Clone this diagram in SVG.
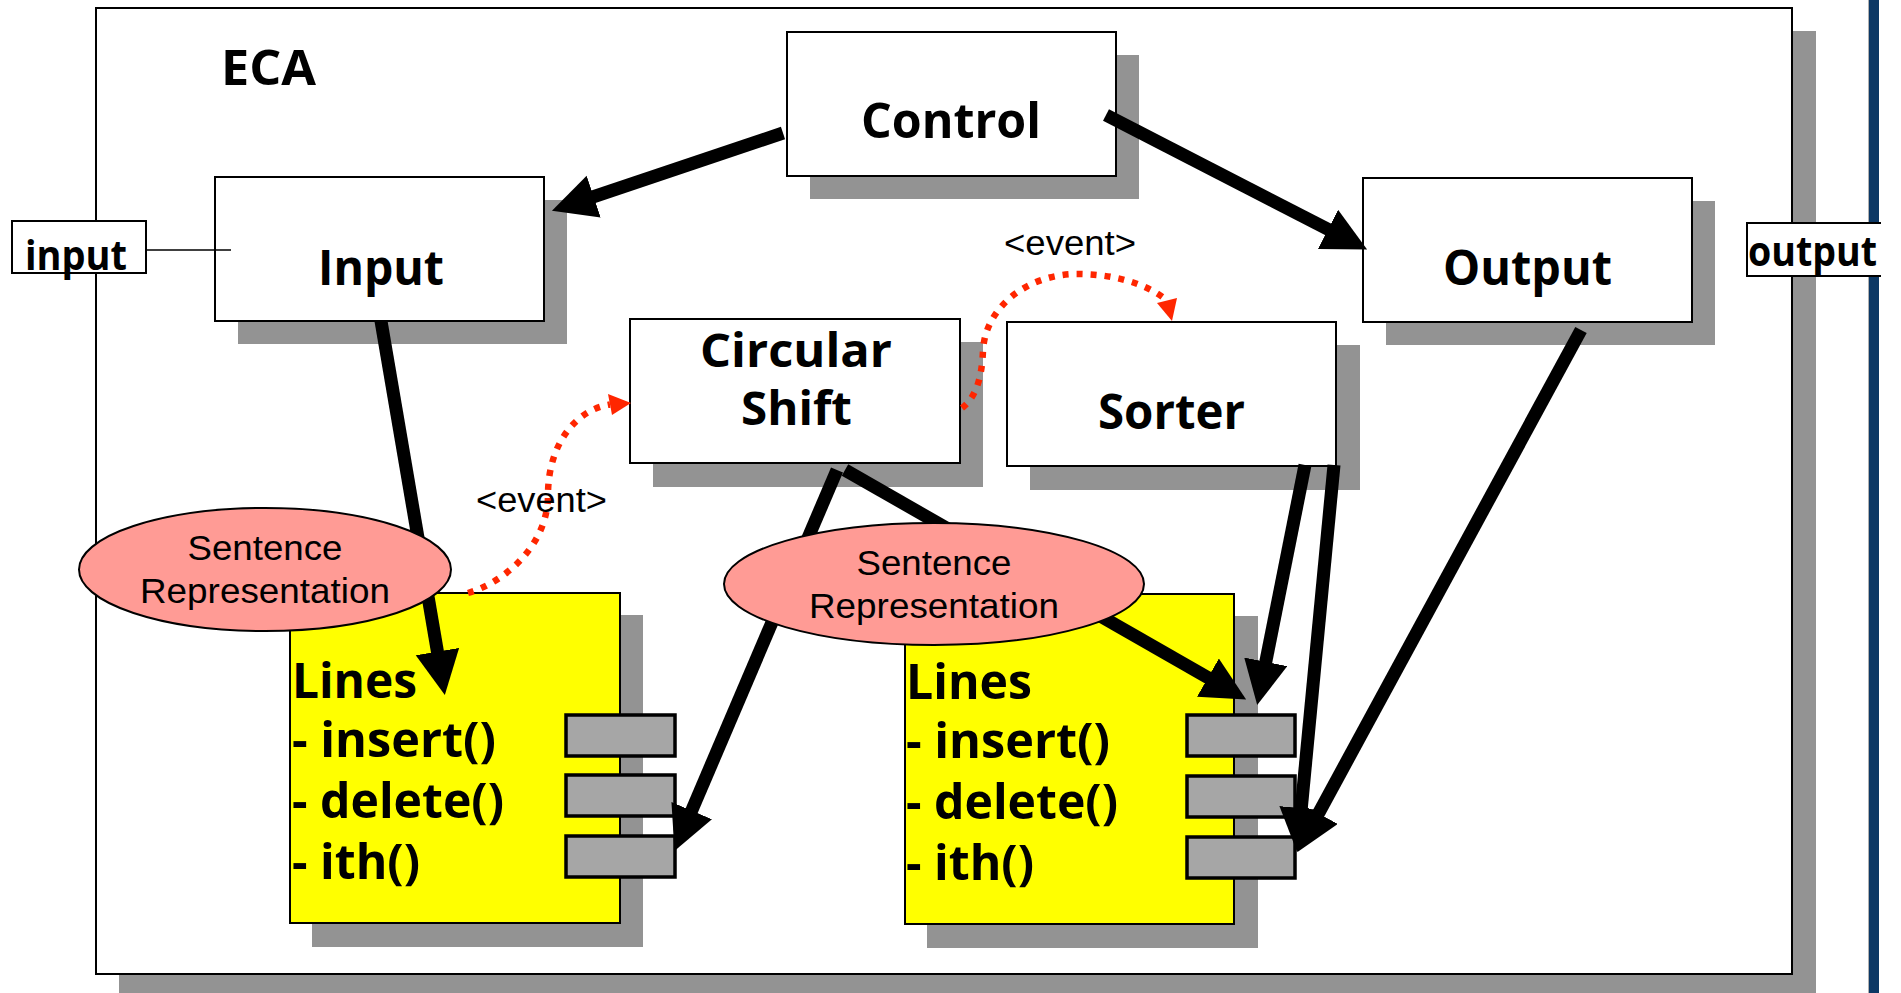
<svg xmlns="http://www.w3.org/2000/svg" width="1901" height="993" viewBox="0 0 1901 993">
<defs>
<style>
.sh{fill:#939393}
.box{fill:#fff;stroke:#000;stroke-width:2}
.yel{fill:#ffff00;stroke:#000;stroke-width:2}
.m{fill:#a6a6a6;stroke:#000;stroke-width:3.5}
.t{font-family:"Open Sans","DejaVu Sans",sans-serif;font-weight:700;fill:#000}
.big{font-size:48px}
.port{font-size:42px}
.r{font-family:"Liberation Sans",Arial,sans-serif;font-size:35px;fill:#000}
.ell{fill:#ff9b95;stroke:#000;stroke-width:2}
.arr{fill:none;stroke:#000;stroke-width:13;stroke-linecap:butt}
.ev{fill:none;stroke:#ff2600;stroke-width:6.5;stroke-dasharray:6 8}
</style>
<marker id="ah" markerUnits="userSpaceOnUse" markerWidth="50" markerHeight="50" refX="1" refY="22" orient="auto">
<path d="M0,0 L44,22 L0,44 z" fill="#000"/>
</marker>
</defs>
<rect width="1901" height="993" fill="#fff"/>
<rect x="1868" y="0" width="1" height="993" fill="#b0b0b0"/>
<rect x="1869" y="0" width="10" height="993" fill="#0c3865"/>

<g id="eca">
<rect class="sh" x="119" y="31" width="1697" height="970"/>
<rect class="box" x="96" y="8" width="1696" height="966"/>
<text class="t" x="221" y="85" font-size="48" textLength="95" lengthAdjust="spacingAndGlyphs">ECA</text>
</g>

<g id="port-input">
<rect class="box" x="12" y="221" width="134" height="52"/>
<text class="t port" x="25" y="270" textLength="102" lengthAdjust="spacingAndGlyphs">input</text>
</g>

<g id="port-output">
<rect x="1747" y="223" width="134" height="53" fill="#fff"/>
<path d="M1881,223 H1747 V276 H1881" fill="none" stroke="#000" stroke-width="2"/>
<text class="t port" x="1748" y="266" textLength="129" lengthAdjust="spacingAndGlyphs">output</text>
</g>

<g id="control">
<rect class="sh" x="810" y="55" width="329" height="144"/>
<rect class="box" x="787" y="32" width="329" height="144"/>
<text class="t big" x="861" y="138" textLength="180" lengthAdjust="spacingAndGlyphs">Control</text>
</g>

<g id="input">
<rect class="sh" x="238" y="200" width="329" height="144"/>
<rect class="box" x="215" y="177" width="329" height="144"/>
<text class="t big" x="318" y="285" textLength="126" lengthAdjust="spacingAndGlyphs">Input</text>
</g>

<g id="output">
<rect class="sh" x="1386" y="201" width="329" height="144"/>
<rect class="box" x="1363" y="178" width="329" height="144"/>
<text class="t big" x="1443" y="285" textLength="169" lengthAdjust="spacingAndGlyphs">Output</text>
</g>

<g id="circular-shift">
<rect class="sh" x="653" y="342" width="330" height="145"/>
<rect class="box" x="630" y="319" width="330" height="144"/>
<text class="t" font-size="46" x="700" y="367" textLength="192" lengthAdjust="spacingAndGlyphs">Circular</text>
<text class="t" font-size="46" x="741" y="425" textLength="111" lengthAdjust="spacingAndGlyphs">Shift</text>
</g>

<g id="sorter">
<rect class="sh" x="1030" y="345" width="330" height="145"/>
<rect class="box" x="1007" y="322" width="329" height="144"/>
<text class="t big" x="1098" y="429" textLength="147" lengthAdjust="spacingAndGlyphs">Sorter</text>
</g>

<g id="lines-1">
<rect class="sh" x="312" y="615" width="331" height="332"/>
<rect class="yel" x="290" y="593" width="330" height="330"/>
<text class="t big" x="292" y="698" textLength="125" lengthAdjust="spacingAndGlyphs">Lines</text>
<text class="t big" x="292" y="757" textLength="204" lengthAdjust="spacingAndGlyphs">- insert()</text>
<text class="t big" x="292" y="818" textLength="212" lengthAdjust="spacingAndGlyphs">- delete()</text>
<text class="t big" x="292" y="879" textLength="128" lengthAdjust="spacingAndGlyphs">- ith()</text>
<rect class="m" x="566" y="715" width="109" height="41"/>
<rect class="m" x="566" y="775" width="109" height="41"/>
<rect class="m" x="566" y="836" width="109" height="41"/>
</g>

<g id="lines-2">
<rect class="sh" x="927" y="616" width="331" height="332"/>
<rect class="yel" x="905" y="594" width="329" height="330"/>
<text class="t big" x="906" y="699" textLength="126" lengthAdjust="spacingAndGlyphs">Lines</text>
<text class="t big" x="906" y="758" textLength="204" lengthAdjust="spacingAndGlyphs">- insert()</text>
<text class="t big" x="906" y="819" textLength="212" lengthAdjust="spacingAndGlyphs">- delete()</text>
<text class="t big" x="906" y="880" textLength="128" lengthAdjust="spacingAndGlyphs">- ith()</text>
<rect class="m" x="1187" y="715" width="108" height="41"/>
<rect class="m" x="1187" y="776" width="108" height="41"/>
<rect class="m" x="1187" y="837" width="108" height="41"/>
</g>

<g id="connectors">
<line x1="146" y1="250" x2="231" y2="250" stroke="#000" stroke-width="1.5"/>
<path class="arr" d="M783,133 L592.7,197" marker-end="url(#ah)"/>
<path class="arr" d="M1106,115 L1328.9,229.8" marker-end="url(#ah)"/>
<path class="arr" d="M381,321 L437.6,652.6" marker-end="url(#ah)"/>
<path class="arr" d="M837,470 L691.3,811.5" marker-end="url(#ah)"/>
<path class="arr" d="M845,470 L1208.8,678.1" marker-end="url(#ah)"/>
<path class="arr" d="M1305,465 L1265.6,662.8" marker-end="url(#ah)"/>
<path class="arr" d="M1334,465 L1301.2,809.2" marker-end="url(#ah)"/>
<path class="arr" d="M1581,330 L1318,814.3" marker-end="url(#ah)"/>
</g>

<g id="sentence-1">
<ellipse class="ell" cx="265" cy="569.5" rx="186" ry="61.5"/>
<text class="r" x="265" y="560" text-anchor="middle" textLength="155" lengthAdjust="spacingAndGlyphs">Sentence</text>
<text class="r" x="265" y="603" text-anchor="middle" textLength="250" lengthAdjust="spacingAndGlyphs">Representation</text>
</g>

<g id="sentence-2">
<ellipse class="ell" cx="934" cy="584" rx="210" ry="61"/>
<text class="r" x="934" y="575" text-anchor="middle" textLength="155" lengthAdjust="spacingAndGlyphs">Sentence</text>
<text class="r" x="934" y="618" text-anchor="middle" textLength="250" lengthAdjust="spacingAndGlyphs">Representation</text>
</g>

<g id="events">
<path class="ev" d="M468,593 C505,582 548,545 548,495 C548,445 575,410 610,404.5"/>
<polygon points="631,403 608,394 612,415" fill="#ff2600"/>
<path class="ev" d="M962,408 C975,398 982,380 983,350 C986,305 1030,274 1077,274 C1110,274 1145,282 1167,300.5"/>
<polygon points="1172,321 1157,303 1177,298" fill="#ff2600"/>
<text class="r" x="476" y="512" textLength="131" lengthAdjust="spacingAndGlyphs">&lt;event&gt;</text>
<text class="r" x="1004" y="255" textLength="132" lengthAdjust="spacingAndGlyphs">&lt;event&gt;</text>
</g>
</svg>
